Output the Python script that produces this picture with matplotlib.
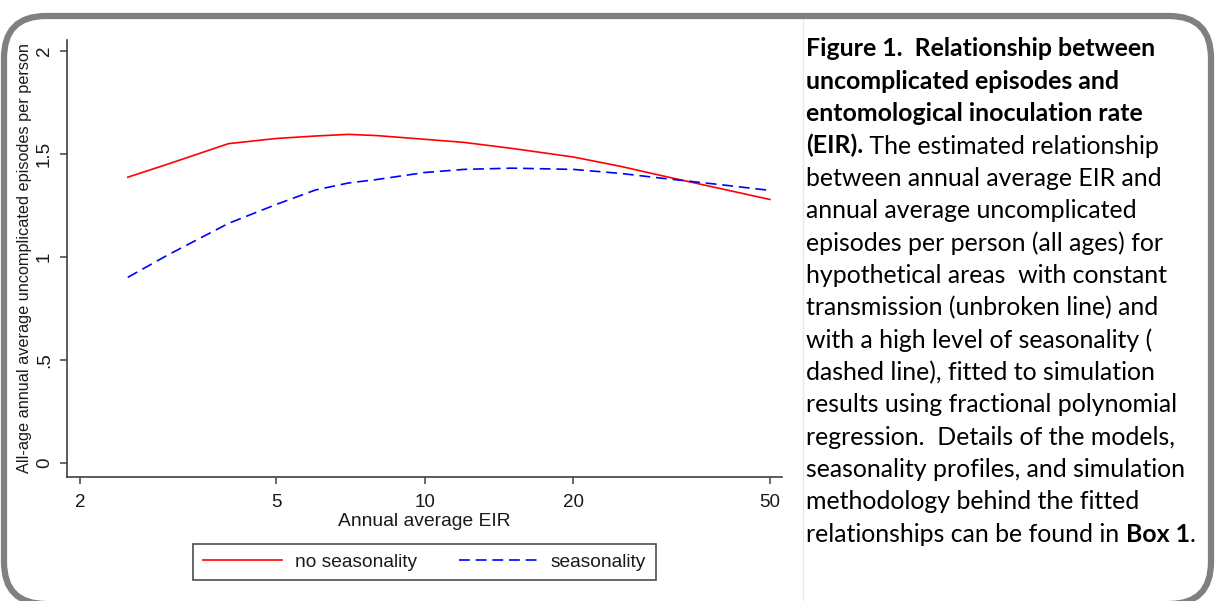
import matplotlib
matplotlib.use("Agg")
import matplotlib.pyplot as plt
from matplotlib.patches import FancyBboxPatch
from matplotlib.lines import Line2D
from matplotlib.ticker import FixedLocator, NullLocator

# Values.
eir = [2.5, 3, 4, 5, 6, 7, 8, 10, 12, 15, 20, 25, 30, 40, 50]
no_seasonality = [1.387, 1.449, 1.55, 1.575, 1.587, 1.595, 1.589, 1.571, 1.556,
                  1.527, 1.485, 1.439, 1.396, 1.330, 1.279]
seasonality = [0.901, 1.007, 1.163, 1.255, 1.325, 1.359, 1.376, 1.410, 1.425,
               1.431, 1.425, 1.405, 1.383, 1.350, 1.323]
x_ticks = [2, 5, 10, 20, 50]
y_ticks = [0, 0.5, 1, 1.5, 2]
y_tick_labels = ["0", ".5", "1", "1.5", "2"]

caption_lines = [
    [("Figure 1.  Relationship between", "bold")],
    [("uncomplicated episodes and", "bold")],
    [("entomological inoculation rate", "bold")],
    [("(EIR).", "bold"), (" The estimated relationship", "normal")],
    [("between annual average EIR and", "normal")],
    [("annual average uncomplicated", "normal")],
    [("episodes per person (all ages) for", "normal")],
    [("hypothetical areas  with constant", "normal")],
    [("transmission (unbroken line) and", "normal")],
    [("with a high level of seasonality (", "normal")],
    [("dashed line), fitted to simulation", "normal")],
    [("results using fractional polynomial", "normal")],
    [("regression.  Details of the models,", "normal")],
    [("seasonality profiles, and simulation", "normal")],
    [("methodology behind the fitted", "normal")],
    [("relationships can be found in ", "normal"), ("Box 1", "bold"), (".", "normal")],
]

W, H = 1216, 601
plt.rcParams["font.family"] = ["Liberation Sans", "DejaVu Sans"]
fig = plt.figure(figsize=(W / 100, H / 100), dpi=100)
fig.patch.set_facecolor("white")

# Rounded frame around plot and caption, plus the faint divider.
frame = FancyBboxPatch((4, -3), 1207, 588, boxstyle="round,pad=0,rounding_size=42",
                       transform=None, facecolor="none", edgecolor="#808080",
                       linewidth=4.5, zorder=5)
fig.patches.append(frame)
fig.add_artist(Line2D([803 / W, 803 / W], [0, 1 - 18 / H], color="#e8e8e8", linewidth=1))

ax = fig.add_axes([67 / W, 1 - 477 / H, 715 / W, 437 / H])
ax.plot(eir, no_seasonality, color="#ff0000", linewidth=1.2, label="no seasonality")
ax.plot(eir, seasonality, color="#0000ff", linewidth=1.2, linestyle=(0, (6.5, 3.5)),
        label="seasonality")

ax.set_xscale("log")
ax.set_xlim(1.883, 52.9)
ax.set_ylim(-0.068, 2.053)
ax.xaxis.set_major_locator(FixedLocator(x_ticks))
ax.xaxis.set_minor_locator(NullLocator())
ax.set_xticklabels([str(t) for t in x_ticks])
ax.set_yticks(y_ticks)
ax.set_yticklabels(y_tick_labels, rotation=90, va="center")

for side in ["top", "right"]:
    ax.spines[side].set_visible(False)
for side in ["left", "bottom"]:
    ax.spines[side].set_color("#404040")
    ax.spines[side].set_linewidth(1.2)
ax.tick_params(axis="both", direction="out", length=5, width=1.1, color="#404040",
               labelsize=13.5, labelcolor="#1a1a1a")
ax.tick_params(axis="x", pad=7.5)
ax.tick_params(axis="y", pad=5)

ax.set_xlabel("Annual average EIR", fontsize=13.9, color="#1a1a1a", labelpad=1)
ax.set_ylabel("All-age annual average uncomplicated episodes per person",
              fontsize=11.7, color="#1a1a1a", labelpad=3)

leg = fig.legend(loc="center", bbox_to_anchor=(424.5 / W, 1 - 562 / H), ncol=2,
                 fontsize=13.8, frameon=True, fancybox=False, handlelength=4.1,
                 handletextpad=0.68, columnspacing=2.2, borderpad=0.5)
leg.get_frame().set_edgecolor("#202020")
leg.get_frame().set_linewidth(1.2)
for t in leg.get_texts():
    t.set_color("#1a1a1a")

# Caption on the right, one line at a time; later pieces of a line follow the previous one.
cap_x = 806
first_base = 56.5
line_step = 32.35
cap_size = 17.9
cap_family = ["Lato", "DejaVu Sans"]
for i, parts in enumerate(caption_lines):
    y = 1 - (first_base + i * line_step) / H
    prev = None
    for text, weight in parts:
        if prev is None:
            prev = fig.text(cap_x / W, y, text, fontsize=cap_size, fontweight=weight,
                            family=cap_family, va="baseline", ha="left", color="black")
        else:
            prev = ax.annotate(text, xy=(1, y), xycoords=(prev, "figure fraction"),
                               fontsize=cap_size, fontweight=weight, family=cap_family,
                               va="baseline", ha="left", color="black",
                               annotation_clip=False)

fig.savefig("out.png", dpi=100)
